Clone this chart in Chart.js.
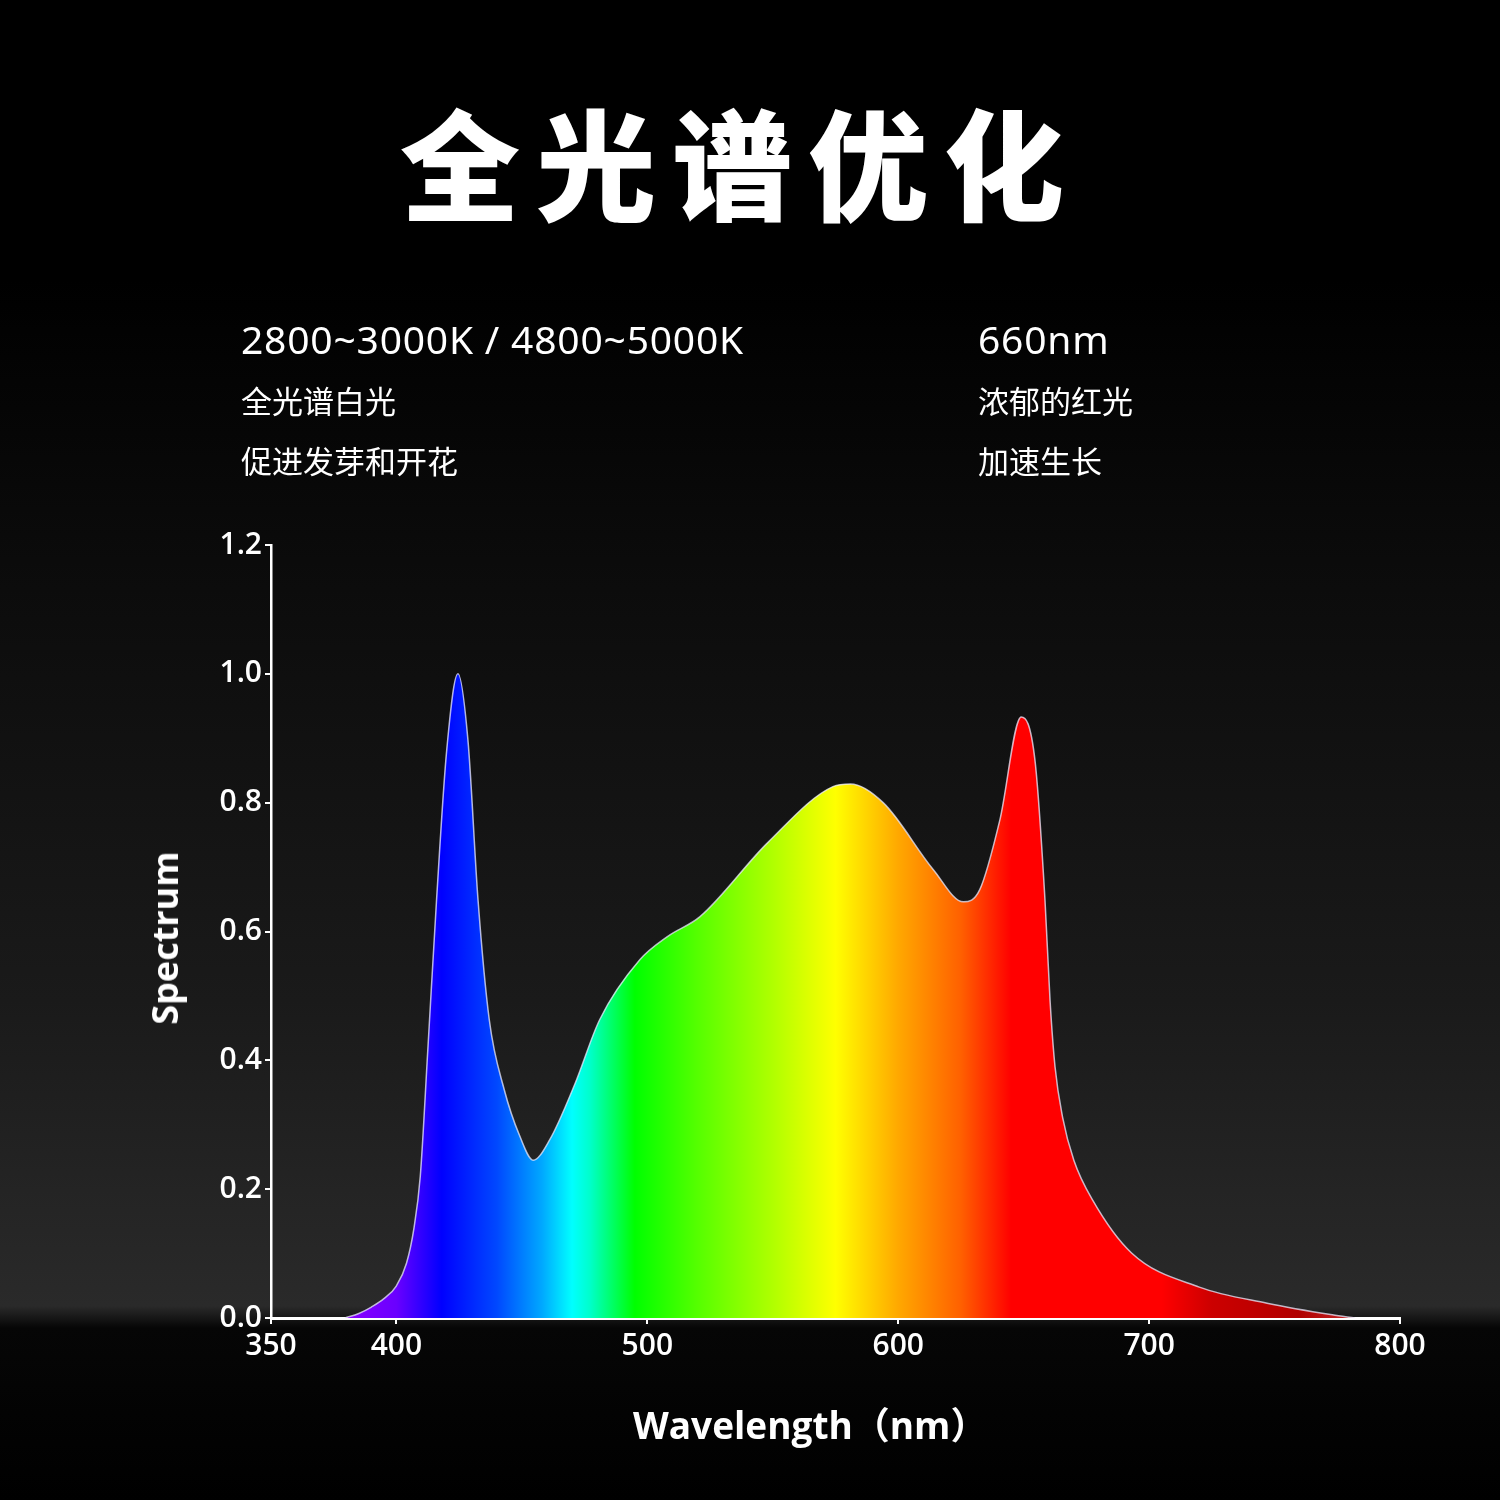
<!DOCTYPE html>
<html>
<head>
<meta charset="utf-8">
<script src="https://cdn.jsdelivr.net/npm/chart.js@4.4.1/dist/chart.umd.min.js"></script>
<style>
    html, body { margin: 0; padding: 0; }
    body {
        width: 1500px; height: 1500px; position: relative; overflow: hidden;
        background: linear-gradient(to bottom, #000 0px, #000 280px, #0b0b0b 560px, #1a1a1a 1000px, #2a2a2a 1306px, #060606 1328px, #000 1500px);
        font-family: "Noto Sans", "Noto Sans CJK SC", sans-serif; color: #fff;
    }
    #chartWrap { position: absolute; left: 0; top: 0; width: 1500px; height: 1500px; }
    .title { position: absolute; left: 0; width: 1480px; top: 88px; text-align: center; font-family: "Noto Sans CJK SC"; font-weight: 900; font-size: 120px; letter-spacing: 16px; line-height: 1.2; }
    .line { position: absolute; white-space: nowrap; line-height: 1; }
    .big { font-size: 39px; letter-spacing: 0.8px; }
    .cjk { font-family: "Noto Sans CJK SC"; font-size: 31px; }
    .axis-title { position: absolute; white-space: nowrap; font-family: "Open Sans", "Noto Sans CJK SC"; font-weight: 700; font-size: 37px; line-height: 1; }
</style>
</head>
<body>
<div id="chartWrap"><canvas id="spectrumChart" width="1500" height="1500"></canvas></div>

<div class="title">全光谱优化</div>

<div class="line big" style="left:241px; top:319px;">2800~3000K / 4800~5000K</div>
<div class="line cjk" style="left:241px; top:384px;">全光谱白光</div>
<div class="line cjk" style="left:241px; top:444px;">促进发芽和开花</div>

<div class="line big" style="left:978px; top:319px;">660nm</div>
<div class="line cjk" style="left:978px; top:384px;">浓郁的红光</div>
<div class="line cjk" style="left:978px; top:444px;">加速生长</div>

<div class="axis-title" id="xTitle" style="left:633px; top:1406px;">Wavelength（nm）</div>
<div class="axis-title" id="yTitle" style="left:165px; top:938px; font-size:36px; transform: translate(-50%, -50%) rotate(-90deg);">Spectrum</div>

<script>
// wavelength (nm) and relative intensity
const wavelengths = [379.5, 385, 390, 395, 400, 404, 407, 409.5, 412.5, 416, 420, 424.5, 428.5, 432.5, 437, 443, 449, 454.5, 461, 471, 481, 497, 508, 521, 548, 574, 581, 594, 614, 626, 632.5, 640.5, 649, 654.5, 658.5, 660.5, 662.5, 665.5, 670, 677.5, 693, 720, 747, 773, 782];
const intensity = [0, 0.007, 0.017, 0.03, 0.05, 0.085, 0.14, 0.22, 0.416, 0.65, 0.88, 1.0, 0.897, 0.65, 0.463, 0.354, 0.284, 0.245, 0.276, 0.362, 0.463, 0.556, 0.592, 0.623, 0.738, 0.825, 0.829, 0.80, 0.696, 0.646, 0.665, 0.773, 0.933, 0.866, 0.649, 0.494, 0.39, 0.312, 0.245, 0.183, 0.101, 0.048, 0.023, 0.005, 0];

const xTicks = [350, 400, 500, 600, 700, 800];
const yTicks = [0, 0.2, 0.4, 0.6, 0.8, 1.0, 1.2];

// colour of the light at each wavelength, for the fill
const colorStops = [
    [380, '#8a00ff'], [400, '#6a00ff'], [418, '#0000ff'], [440, '#0048ff'], [458, '#00a8ff'],
    [470, '#00ffff'], [477, '#00ffcc'], [495, '#00ff00'], [520, '#55ff00'], [550, '#b0ff00'],
    [575, '#ffff00'], [600, '#ffa800'], [625, '#ff6000'], [645, '#ff0000'], [705, '#ff0000'],
    [725, '#cc0000'], [760, '#b00000'], [785, '#c83030']
];

function spectrumFill(context) {
    const chart = context.chart;
    const xs = chart.scales.x;
    if (!xs || !chart.chartArea) return '#0000ff';
    const x0 = xs.getPixelForValue(colorStops[0][0]);
    const x1 = xs.getPixelForValue(colorStops[colorStops.length - 1][0]);
    const g = chart.ctx.createLinearGradient(x0, 0, x1, 0);
    colorStops.forEach(([nm, c]) => {
        g.addColorStop((xs.getPixelForValue(nm) - x0) / (x1 - x0), c);
    });
    return g;
}

const ctx = document.getElementById('spectrumChart').getContext('2d');
const tickFont = { family: '"Open Sans", sans-serif', size: 30, weight: '600' };

new Chart(ctx, {
    type: 'line',
    data: {
        datasets: [{
            data: wavelengths.map((w, i) => ({ x: w, y: intensity[i] })),
            borderColor: 'rgba(235,235,255,0.75)',
            borderWidth: 1.5,
            backgroundColor: spectrumFill,
            fill: 'origin',
            pointRadius: 0,
            cubicInterpolationMode: 'monotone'
        }]
    },
    options: {
        responsive: false,
        animation: false,
        layout: { padding: { top: 545, right: 100, left: 0, bottom: 0 } },
        plugins: { legend: { display: false }, tooltip: { enabled: false } },
        scales: {
            x: {
                type: 'linear',
                min: 350,
                max: 800,
                afterBuildTicks: (scale) => { scale.ticks = xTicks.map(v => ({ value: v })); },
                afterFit: (scale) => { scale.height = 182; },
                border: { color: '#ffffff', width: 3 },
                grid: { drawOnChartArea: false, color: '#ffffff', lineWidth: 2, tickLength: 6 },
                ticks: { color: '#ffffff', font: tickFont, padding: 4, maxRotation: 0, autoSkip: false }
            },
            y: {
                min: 0,
                max: 1.2,
                afterBuildTicks: (scale) => { scale.ticks = yTicks.map(v => ({ value: v })); },
                afterFit: (scale) => { scale.width = 271; },
                border: { color: '#ffffff', width: 2.5 },
                grid: { drawOnChartArea: false, color: '#ffffff', lineWidth: 2, tickLength: 6 },
                ticks: { color: '#ffffff', font: tickFont, padding: 3, callback: v => v.toFixed(1) }
            }
        }
    }
});
</script>
</body>
</html>
